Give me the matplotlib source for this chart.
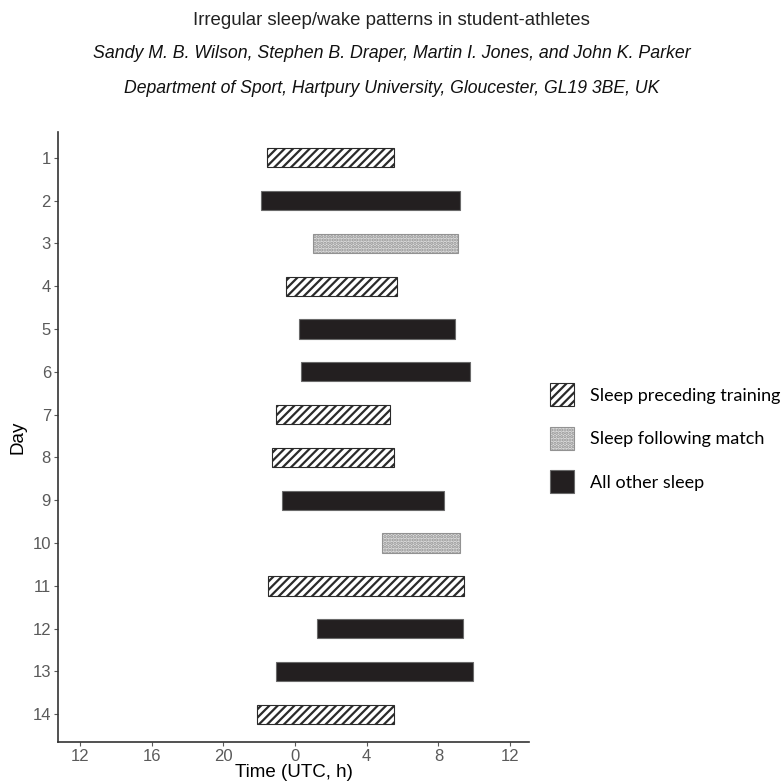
import matplotlib
matplotlib.use("Agg")
import matplotlib.pyplot as plt
from matplotlib.patches import Patch

# sleep bouts, hours relative to midnight (negative = evening before)
days = [1, 2, 3, 4, 5, 6, 7, 8, 9, 10, 11, 12, 13, 14]
sleep_on = [-1.58, -1.92, 1.03, -0.52, 0.24, 0.35, -1.08, -1.3, -0.73, 4.84, -1.53, 1.25, -1.08, -2.1]
sleep_off = [5.55, 9.2, 9.07, 5.7, 8.94, 9.78, 5.31, 5.53, 8.32, 9.22, 9.4, 9.37, 9.93, 5.53]
kind = ["train", "other", "match", "train", "other", "other", "train", "train",
        "other", "match", "train", "other", "other", "train"]

xticks = [-12, -8, -4, 0, 4, 8, 12]
xticklabels = ["12", "16", "20", "0", "4", "8", "12"]

styles = {
    "train": dict(facecolor="white", edgecolor="#2a2a2a", hatch="////"),
    "match": dict(facecolor="#dedede", edgecolor="#929292", hatch="....."),
    "other": dict(facecolor="#231f20", edgecolor="#6a6a6a", hatch=None),
}
labels = {"train": "Sleep preceding training",
          "match": "Sleep following match",
          "other": "All other sleep"}

plt.rcParams["font.family"] = ["Liberation Sans", "DejaVu Sans"]
plt.rcParams["hatch.linewidth"] = 1.6

fig = plt.figure(figsize=(7.83, 7.82), dpi=100)
ax = fig.add_axes([0.074, 0.051, 0.602, 0.78])

for d, s, e, k in zip(days, sleep_on, sleep_off, kind):
    ax.barh(d, e - s, left=s, height=0.45, linewidth=0.8, **styles[k])

ax.set_xlim(-13.22, 13.07)
ax.set_ylim(14.65, 0.4)
ax.set_xticks(xticks)
ax.set_xticklabels(xticklabels)
ax.set_yticks(days)
ax.tick_params(colors="#5a5a5a", labelsize=12, length=3, width=0.8, pad=2)
for side in ["top", "right"]:
    ax.spines[side].set_visible(False)
for side in ["left", "bottom"]:
    ax.spines[side].set_color("#333333")
    ax.spines[side].set_linewidth(1.2)
ax.set_xlabel("Time (UTC, h)", fontsize=13.5, labelpad=0)
ax.set_ylabel("Day", fontsize=13.5, labelpad=4)

handles = [Patch(linewidth=0.8, **styles[k]) for k in ["train", "match", "other"]]
fig.legend(handles, [labels[k] for k in ["train", "match", "other"]],
           loc="upper left", bbox_to_anchor=(0.703, 0.510), frameon=False,
           prop={"family": "Lato", "size": 13}, handlelength=1.3, handleheight=1.6,
           handletextpad=0.9, labelspacing=1.12, borderpad=0, borderaxespad=0)

fig.text(0.5, 0.974, "Irregular sleep/wake patterns in student-athletes",
         ha="center", va="center", fontsize=13.4, color="#222222")
fig.text(0.5, 0.931, "Sandy M. B. Wilson, Stephen B. Draper, Martin I. Jones, and John K. Parker",
         ha="center", va="center", fontsize=12.8, style="italic", color="#111111")
fig.text(0.5, 0.887, "Department of Sport, Hartpury University, Gloucester, GL19 3BE, UK",
         ha="center", va="center", fontsize=12.7, style="italic", color="#111111")

fig.savefig("out.png", dpi=100)
